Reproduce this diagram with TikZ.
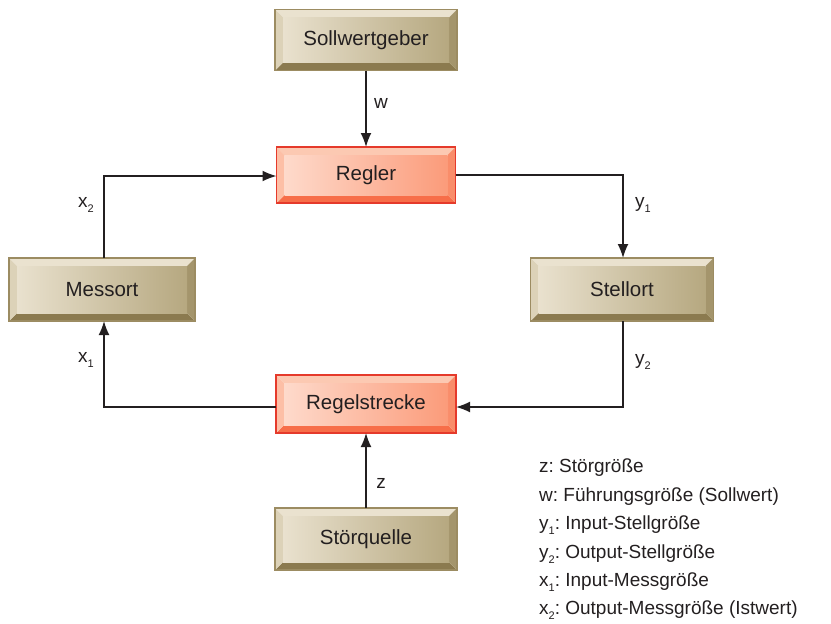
\documentclass[tikz,border=0pt]{standalone}
\usepackage{fontspec}
\setmainfont{Liberation Sans}
\usetikzlibrary{arrows.meta,calc,backgrounds}
\frenchspacing
\definecolor{bgTop}{HTML}{EAE2CF}
\definecolor{bgLeft}{HTML}{DCD2B8}
\definecolor{bgRight}{HTML}{A4956C}
\definecolor{bgBot}{HTML}{8B7A4F}
\definecolor{bgFaceL}{HTML}{E9E1CE}
\definecolor{bgFaceR}{HTML}{B6A880}
\definecolor{bgEdge}{HTML}{9C8C62}
\definecolor{slTop}{HTML}{FCC9B2}
\definecolor{slLeft}{HTML}{FDBFA6}
\definecolor{slRight}{HTML}{F98D6A}
\definecolor{slBot}{HTML}{F76E49}
\definecolor{slFaceL}{HTML}{FEDACB}
\definecolor{slFaceR}{HTML}{FB9B7A}
\definecolor{slEdge}{HTML}{E53A2B}
\definecolor{txt}{HTML}{231F20}
\newcommand\lowidx[1]{\raisebox{-0.5ex}{\fontsize{11}{11}\selectfont #1}}
% #1 name, #2 position, #3 width, #4 height, #5 colour prefix, #6 text
\newcommand\bevelbox[6]{%
  \node[boxtext,minimum width=#3pt,minimum height=#4pt] (#1) at (#2) {#6};
  \begin{scope}[on background layer]
    \fill[#5Top] (#1.north west) -- (#1.north east) -- ($(#1.north east)+(-8pt,-8pt)$) -- ($(#1.north west)+(8pt,-8pt)$) -- cycle;
    \fill[#5Bot] (#1.south west) -- (#1.south east) -- ($(#1.south east)+(-8pt,8pt)$) -- ($(#1.south west)+(8pt,8pt)$) -- cycle;
    \fill[#5Left] (#1.north west) -- ($(#1.north west)+(8pt,-8pt)$) -- ($(#1.south west)+(8pt,8pt)$) -- (#1.south west) -- cycle;
    \fill[#5Right] (#1.north east) -- ($(#1.north east)+(-8pt,-8pt)$) -- ($(#1.south east)+(-8pt,8pt)$) -- (#1.south east) -- cycle;
    \shade[left color=#5FaceL,right color=#5FaceR] ($(#1.north west)+(8pt,-8pt)$) rectangle ($(#1.south east)+(-8pt,8pt)$);
    \draw[#5Edge,line width=1.2pt] (#1.north west) rectangle (#1.south east);
  \end{scope}}
\tikzset{
  boxtext/.style={inner sep=0pt,outer sep=0pt,font=\fontsize{20.5}{22}\selectfont,text=txt},
  conn/.style={line width=1.6pt,txt,-{Latex[length=14pt,width=11pt]}},
  lbl/.style={font=\fontsize{19}{21}\selectfont,text=txt,inner sep=0pt},
  legend/.style={font=\fontsize{19}{21}\selectfont,text=txt,inner sep=0pt,anchor=west}
}
\begin{document}
\begin{tikzpicture}[x=1pt,y=-1pt]
\useasboundingbox (0,0) rectangle (831,624);
\bevelbox{soll}{366,40}{182}{61}{bg}{Sollwertgeber}
\bevelbox{regler}{366,175}{179}{56}{sl}{Regler}
\bevelbox{mess}{102,289.5}{186}{63}{bg}{Messort}
\bevelbox{stell}{622,289.5}{183}{63}{bg}{Stellort}
\bevelbox{strecke}{366,404}{180}{58}{sl}{Regelstrecke}
\bevelbox{stoer}{366,539}{182}{62}{bg}{Störquelle}
\coordinate (c1) at (623,175);
\coordinate (c2) at (623,407);
\coordinate (c3) at (104,407);
\coordinate (c4) at (104,176);
\draw[conn] (soll.south) -- (regler.north);
\draw[conn] (regler.east) -- (c1) -- (c1 |- stell.north);
\draw[conn] (c1 |- stell.south) -- (c2) -- (strecke.east |- c2);
\draw[conn] (strecke.west |- c3) -- (c3) -- (c3 |- mess.south);
\draw[conn] (c4 |- mess.north) -- (c4) -- (regler.west |- c4);
\draw[conn] (stoer.north) -- (strecke.south);
\node[lbl] (lw) at (381,103) {w};
\node[lbl] (ly1) at (643,205) {y\lowidx{1}};
\node[lbl] (ly2) at (643,362) {y\lowidx{2}};
\node[lbl] (lx1) at (86,360) {x\lowidx{1}};
\node[lbl] (lx2) at (86,205) {x\lowidx{2}};
\node[lbl] (lz) at (381,483) {z};
\node[legend] (g1) at (539,468) {z: Störgröße};
\node[legend] (g2) at (539,497) {w: Führungsgröße (Sollwert)};
\node[legend] (g3) at (539,525) {y\lowidx{1}: Input-Stellgröße};
\node[legend] (g4) at (539,554) {y\lowidx{2}: Output-Stellgröße};
\node[legend] (g5) at (539,582) {x\lowidx{1}: Input-Messgröße};
\node[legend] (g6) at (539,610) {x\lowidx{2}: Output-Messgröße (Istwert)};
\end{tikzpicture}
\end{document}
